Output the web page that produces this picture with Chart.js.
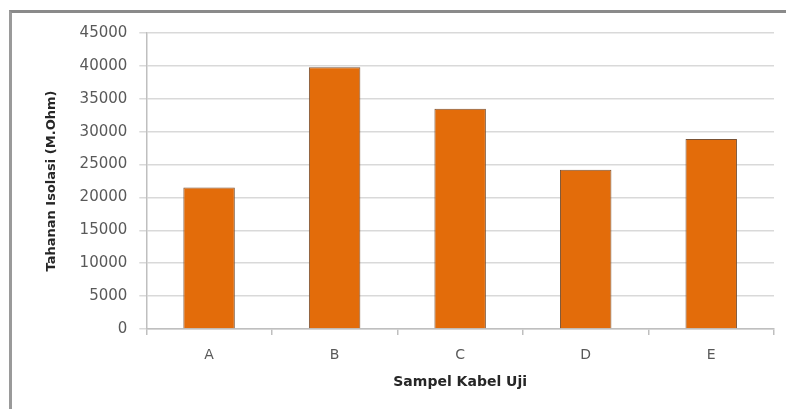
<!DOCTYPE html>
<html>
<head>
<meta charset="utf-8">
<script src="https://cdn.jsdelivr.net/npm/chart.js@4"></script>
<style>
  body { margin: 0; background: #fff; }
  #wrap { position: relative; width: 786px; height: 409px; }
  #frame {
    position: absolute; left: 9px; top: 10px; width: 777px; height: 399px;
    border-top: 3px solid #8a8a8a; border-left: 3px solid #9a9a9a;
    box-sizing: border-box;
  }
  canvas { position: absolute; left: 0; top: 0; }
</style>
</head>
<body>
<div id="wrap">
  <div id="frame"></div>
  <canvas id="chart" width="786" height="409"></canvas>
</div>
<script>
const categories = ["A", "B", "C", "D", "E"];
const values = [21500, 39800, 33500, 24200, 28900];
const yTicks = [0, 5000, 10000, 15000, 20000, 25000, 30000, 35000, 40000, 45000];

const ctx = document.getElementById("chart");

new Chart(ctx, {
  type: "bar",
  data: {
    labels: categories,
    datasets: [
      {
        label: "Tahanan Isolasi",
        data: values,
        backgroundColor: "#e36c0a",
        borderColor: "#7a5234",
        borderWidth: 1,
        barPercentage: 0.41,
        categoryPercentage: 1,
      },
    ],
  },
  options: {
    responsive: false,
    animation: false,
    layout: { padding: { left: 40, right: 12, top: 33, bottom: 16 } },
    plugins: {
      legend: { display: false },
      tooltip: { enabled: false },
    },
    scales: {
      x: {
        grid: {
          drawOnChartArea: false,
          color: "#bfbfbf",
          tickLength: 6,
          lineWidth: 1.5,
        },
        border: { color: "#bfbfbf", width: 1.5 },
        ticks: {
          color: "#595959",
          font: { family: "DejaVu Sans", size: 14, lineHeight: 1 },
          padding: 13,
        },
        title: {
          display: true,
          text: "Sampel Kabel Uji",
          color: "#262626",
          font: { family: "DejaVu Sans", size: 14, weight: "bold", lineHeight: 1 },
          padding: { top: 0 },
        },
      },
      y: {
        min: 0,
        max: 45000,
        afterBuildTicks: (axis) => {
          axis.ticks = yTicks.map((v) => ({ value: v }));
        },
        grid: {
          color: "#d9d9d9",
          lineWidth: 1.5,
          tickLength: 7,
        },
        border: { color: "#bfbfbf", width: 1.5 },
        ticks: {
          color: "#595959",
          font: { family: "DejaVu Sans", size: 15 },
          padding: 12,
          callback: (v) => String(v),
        },
        title: {
          display: true,
          text: "Tahanan Isolasi (M.Ohm)",
          color: "#262626",
          font: { family: "DejaVu Sans", size: 13, weight: "bold" },
          padding: { bottom: 8 },
        },
      },
    },
  },
});
</script>
</body>
</html>
